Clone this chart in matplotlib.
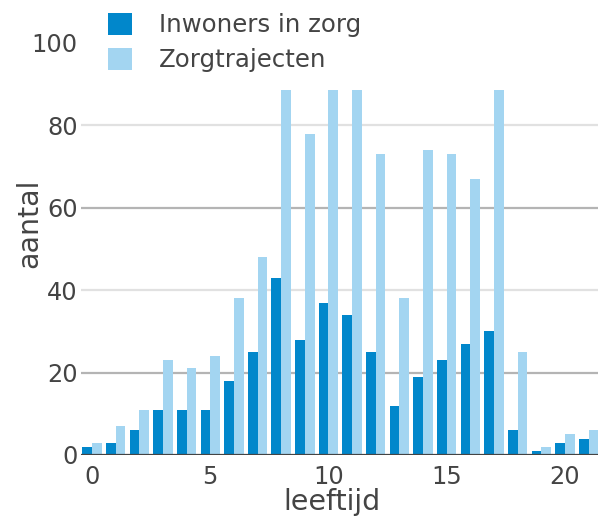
import matplotlib
matplotlib.use("Agg")
import matplotlib.pyplot as plt
import numpy as np

ages = list(range(0, 22))
inwoners = [2, 3, 6, 11, 11, 11, 18, 25, 43, 28, 37, 34, 25, 12, 19, 23, 27, 30, 6, 1, 3, 4]
trajecten = [3, 7, 11, 23, 21, 24, 38, 48, 88.5, 78, 88.5, 88.5, 73, 38, 74, 73, 67, 88.5, 25, 2, 5, 6]
series_names = ["Inwoners in zorg", "Zorgtrajecten"]
colors = ["#0187CB", "#A3D5F1"]
yticks = [0, 20, 40, 60, 80, 100]
xticks = [0, 5, 10, 15, 20]

plt.rcParams['font.family'] = ['DejaVu Sans']
txt = "#444444"

fig = plt.figure(figsize=(5.98, 5.16), dpi=100)
ax = fig.add_axes([80.7 / 598, 61 / 516, 1 - 80.7 / 598, 412 / 516])

x = np.array(ages)
w = 0.41
b1 = ax.bar(x - w / 2, inwoners, width=w, color=colors[0], label=series_names[0], zorder=3, linewidth=0)
b2 = ax.bar(x + w / 2, trajecten, width=w, color=colors[1], label=series_names[1], zorder=3, linewidth=0)

ax.set_xlim(-0.48, 21.4)
ax.set_ylim(0, 100)

for v in [20, 60]:
    ax.axhline(v, color="#b4b4b4", lw=1.6, zorder=1)
for v in [40, 80]:
    ax.axhline(v, color="#e1e1e1", lw=1.6, zorder=1)
ax.axhline(0, color="#444444", lw=1.6, zorder=4)

for s in ax.spines.values():
    s.set_visible(False)

ax.set_yticks(yticks)
ax.set_xticks(xticks)
ax.tick_params(axis='both', length=0, labelsize=17.3, colors=txt)
ax.tick_params(axis='y', pad=2)
ax.tick_params(axis='x', pad=7)

ax.set_xlabel("leeftijd", fontsize=20.5, color=txt)
ax.set_ylabel("aantal", fontsize=20.5, color=txt)
ax.xaxis.set_label_coords((332.5 - 80.7) / (598 - 80.7), -0.08)
ax.yaxis.set_label_coords((43 - 80.7) / (598 - 80.7), (455 - 223) / 412)

leg = fig.legend(handles=[b1, b2], loc='upper left', bbox_to_anchor=(100.5 / 598, 1 - 5.5 / 516),
                 frameon=False, fontsize=17.6, handlelength=1.0, handleheight=1.0,
                 handletextpad=1.1, labelspacing=0.45, borderaxespad=0, borderpad=0.3)
for t in leg.get_texts():
    t.set_color(txt)

fig.savefig("out.png", dpi=100)
